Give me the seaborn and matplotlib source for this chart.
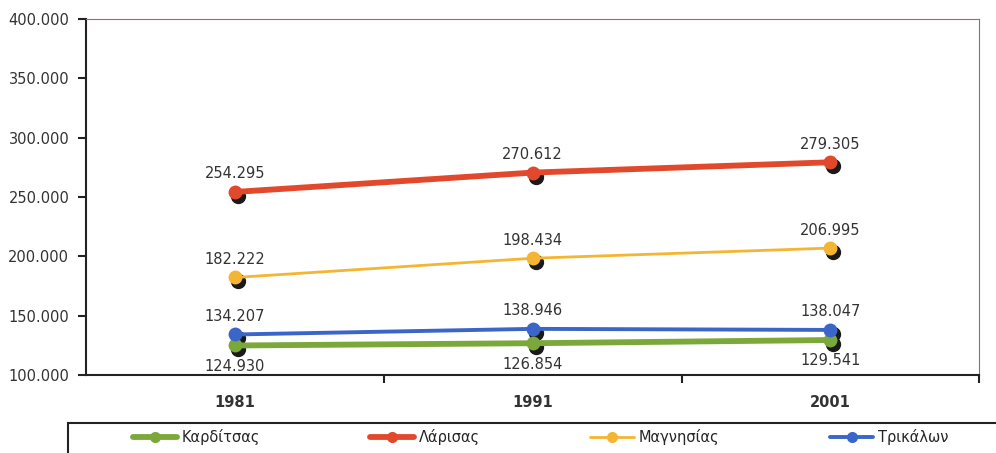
import pandas as pd
import seaborn as sns
import matplotlib.pyplot as plt
from matplotlib import transforms, lines, patches
from matplotlib.ticker import FuncFormatter, FixedLocator

years = ["1981", "1991", "2001"]
karditsa = [124930, 126854, 129541]
larisa = [254295, 270612, 279305]
magnisia = [182222, 198434, 206995]
trikala = [134207, 138946, 138047]

names = ["Καρδίτσας", "Λάρισας", "Μαγνησίας", "Τρικάλων"]
series = [karditsa, larisa, magnisia, trikala]
palette = {"Καρδίτσας": "#7ba83a", "Λάρισας": "#e2482c",
           "Μαγνησίας": "#f4b632", "Τρικάλων": "#3b66c9"}
widths = {"Καρδίτσας": 4.2, "Λάρισας": 4.2, "Μαγνησίας": 2.0, "Τρικάλων": 2.8}
label_above = {"Καρδίτσας": False, "Λάρισας": True, "Μαγνησίας": True, "Τρικάλων": True}

rows = []
for name, vals in zip(names, series):
    for i, (yr, v) in enumerate(zip(years, vals)):
        rows.append({"pos": i, "year": yr, "value": v, "nomos": name})
df = pd.DataFrame(rows)

sns.set_theme(style="white")
plt.rcParams["font.family"] = ["DejaVu Sans"]

fig = plt.figure(figsize=(9.96, 4.53), dpi=100)
ax = fig.add_axes([0.0863, 0.172, 0.897, 0.786])


def fmt(v):
    return f"{v:,.0f}".replace(",", ".")


# shadow of markers
shadow = transforms.offset_copy(ax.transData, fig=fig, x=3, y=-4, units="dots")
for name in names:
    sub = df[df["nomos"] == name]
    ax.plot(sub["pos"], sub["value"], "o", color="#1a1a1a", markersize=10,
            transform=shadow, zorder=2)

for name in names:
    sub = df[df["nomos"] == name]
    sns.lineplot(data=sub, x="pos", y="value", color=palette[name],
                 linewidth=widths[name], marker="o", markersize=10,
                 markeredgewidth=0, ax=ax, zorder=3, legend=False)
    for _, r in sub.iterrows():
        dy = 13 if label_above[name] else -15
        ax.annotate(fmt(r["value"]), (r["pos"], r["value"]),
                    xytext=(0, dy), textcoords="offset points",
                    ha="center", va="center", fontsize=10.5, color="#333333",
                    zorder=4)

ax.set_xlim(-0.5, 2.5)
ax.set_ylim(100000, 400000)
ax.set_yticks(range(100000, 400001, 50000))
ax.yaxis.set_major_formatter(FuncFormatter(lambda v, p: fmt(v)))
ax.set_xticks(range(len(years)))
ax.set_xticklabels(years, fontweight="bold")
ax.xaxis.set_minor_locator(FixedLocator([0.5, 1.5, 2.5]))
ax.tick_params(axis="x", which="major", length=0, pad=14, labelsize=10.5,
               labelcolor="#333333")
ax.tick_params(axis="x", which="minor", length=6, width=1.5, color="#222222",
               direction="out", bottom=True)
ax.tick_params(axis="y", length=6, width=1.5, color="#222222", direction="out",
               left=True, labelsize=10.5, labelcolor="#333333", pad=6)
ax.set_xlabel("")
ax.set_ylabel("")

ax.spines["left"].set_color("#222222")
ax.spines["left"].set_linewidth(1.5)
ax.spines["bottom"].set_color("#222222")
ax.spines["bottom"].set_linewidth(1.5)
ax.spines["top"].set_color("#b06070")
ax.spines["top"].set_linewidth(0.8)
ax.spines["right"].set_color("#777777")
ax.spines["right"].set_linewidth(0.8)

# legend box (runs off the bottom and right of the picture)
frame = patches.Rectangle((0.068, -0.1), 1.0, 0.166, transform=fig.transFigure,
                          facecolor="white", edgecolor="#222222", linewidth=1.5,
                          clip_on=False)
fig.patches.append(frame)

handles = [lines.Line2D([0], [0], color=palette[n], lw=widths[n], marker="o",
                        markersize=8, markeredgewidth=0) for n in names]
leg = fig.legend(handles, names, loc="center left", ncol=4, mode="expand",
                 bbox_to_anchor=(0.128, 0.035, 0.83, 0.0),
                 frameon=False, fontsize=10.5,
                 handlelength=3, handletextpad=0.3, borderaxespad=0)

fig.savefig("out.png", dpi=100)
